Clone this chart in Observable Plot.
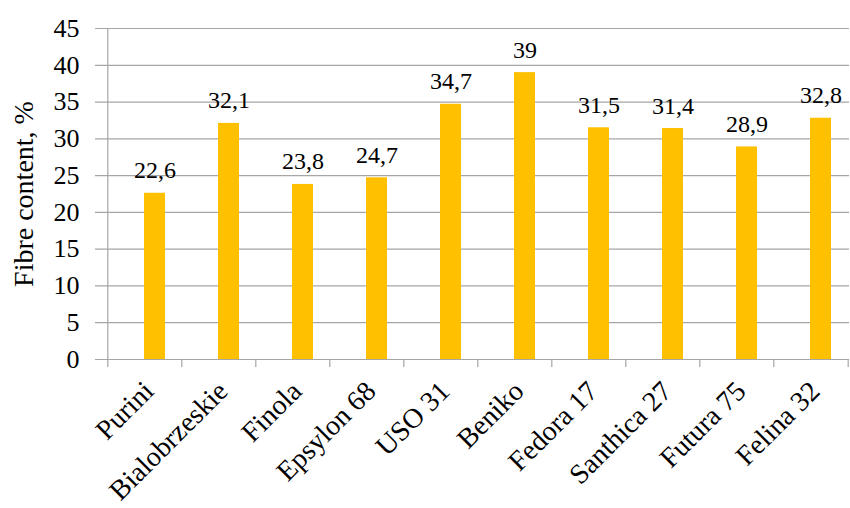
<!DOCTYPE html>
<html>
<head>
<meta charset="utf-8">
<script src="https://cdn.jsdelivr.net/npm/d3@7"></script>
<script src="https://cdn.jsdelivr.net/npm/@observablehq/plot@0.6"></script>
<style>
  html, body { margin: 0; padding: 0; background: #fff; }
  #chart svg { display: block; }
  #chart svg text { font-family: "Liberation Serif", "Times New Roman", serif !important; }
</style>
</head>
<body>
<div id="chart"></div>
<script>
const varieties = ["Purini", "Bialobrzeskie", "Finola", "Epsylon 68", "USO 31", "Beniko", "Fedora 17", "Santhica 27", "Futura 75", "Felina 32"];
const fibre = [22.6, 32.1, 23.8, 24.7, 34.7, 39, 31.5, 31.4, 28.9, 32.8];
const labels = ["22,6", "32,1", "23,8", "24,7", "34,7", "39", "31,5", "31,4", "28,9", "32,8"];
const yTicks = [0, 5, 10, 15, 20, 25, 30, 35, 40, 45];
const yLabel = "Fibre content, %";

const data = varieties.map((v, i) => ({variety: v, value: fibre[i], label: labels[i]}));

const W = 850, H = 508, ML = 105, MR = 1, MT = 28, MB = 149;
const step = (W - ML - MR) / varieties.length;
const font = "Liberation Serif";
const grid = "#a6a6a6";

const chart = Plot.plot({
  width: W,
  height: H,
  marginLeft: ML,
  marginRight: MR,
  marginTop: MT,
  marginBottom: MB,
  style: {fontFamily: font, background: "#fff", color: "#000", overflow: "visible"},
  x: {domain: varieties, paddingInner: 0.72, paddingOuter: 0.36, axis: null},
  y: {domain: [0, 45], axis: null},
  marks: [
    Plot.ruleY(yTicks, {y: d => d, stroke: grid, strokeWidth: 1.2, insetLeft: -10}),
    Plot.ruleX([varieties[0]], {x: d => d, dx: -step / 2, stroke: grid, strokeWidth: 1.2}),
    Plot.ruleX(varieties, {x: d => d, y1: 0, y2: 0, dx: -step / 2, insetBottom: -8, stroke: grid, strokeWidth: 1.2}),
    Plot.ruleX([varieties[varieties.length - 1]], {x: d => d, y1: 0, y2: 0, dx: step / 2, insetBottom: -8, stroke: grid, strokeWidth: 1.2}),
    Plot.barY(data, {x: "variety", y: "value", fill: "#FFC000", dx: 10}),
    Plot.text(data, {x: "variety", y: "value", text: "label", dx: 10, dy: -15, lineAnchor: "bottom", fontSize: 24, fontFamily: font, fill: "#000"}),
    Plot.text(yTicks, {y: d => d, text: d => String(d), frameAnchor: "left", textAnchor: "end", dx: -26, fontSize: 26, fontFamily: font, fill: "#000"}),
    Plot.text(data, {x: "variety", text: "variety", frameAnchor: "bottom", textAnchor: "end", lineAnchor: "middle", rotate: -45, dx: 4, dy: 27, fontSize: 28, fontFamily: font, fill: "#000"}),
    Plot.text([yLabel], {text: d => d, frameAnchor: "left", textAnchor: "middle", rotate: -90, dx: -81, fontSize: 28, fontFamily: font, fill: "#000"})
  ]
});
document.getElementById("chart").appendChild(chart);
</script>
</body>
</html>
